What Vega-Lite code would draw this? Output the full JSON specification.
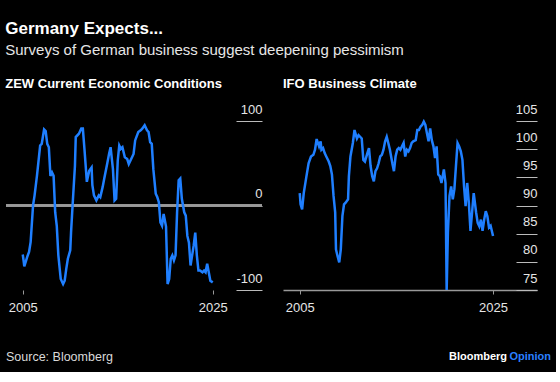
{
  "$schema": "https://vega.github.io/schema/vega-lite/v6.json",
  "background": "#000000",
  "padding": {"left": 5, "right": 5, "top": 20, "bottom": 5},
  "config": {
    "view": {"stroke": null},
    "font": "Liberation Sans",
    "concat": {"spacing": 20}
  },
  "title": {
    "text": "Germany Expects...",
    "subtitle": "Surveys of German business suggest deepening pessimism",
    "anchor": "start",
    "frame": "bounds",
    "color": "#ffffff",
    "subtitleColor": "#e6e6e6",
    "fontSize": 17,
    "fontWeight": "bold",
    "subtitleFontSize": 15,
    "subtitlePadding": 5,
    "offset": 19
  },
  "vconcat": [
    {
      "hconcat": [
        {
          "width": 256,
          "height": 169,
          "title": {"text": "ZEW Current Economic Conditions", "anchor": "start", "fontSize": 13, "fontWeight": "bold", "color": "#ffffff", "offset": 12},
          "data": {"values": [
            {"date": "2005-01-01", "value": -58}, {"date": "2005-02-01", "value": -65}, {"date": "2005-03-01", "value": -72},
            {"date": "2005-05-01", "value": -66}, {"date": "2005-07-01", "value": -60}, {"date": "2005-09-01", "value": -55},
            {"date": "2005-11-01", "value": -43}, {"date": "2006-02-01", "value": 0}, {"date": "2006-04-01", "value": 12},
            {"date": "2006-07-01", "value": 35}, {"date": "2006-11-01", "value": 71}, {"date": "2007-01-01", "value": 73},
            {"date": "2007-04-01", "value": 90}, {"date": "2007-06-01", "value": 88}, {"date": "2007-08-01", "value": 73},
            {"date": "2007-10-01", "value": 69}, {"date": "2007-12-01", "value": 35}, {"date": "2008-02-01", "value": 39},
            {"date": "2008-04-01", "value": 35}, {"date": "2008-06-01", "value": -8}, {"date": "2008-08-01", "value": -24},
            {"date": "2008-10-01", "value": -59}, {"date": "2009-01-01", "value": -87}, {"date": "2009-04-01", "value": -93},
            {"date": "2009-06-01", "value": -89}, {"date": "2009-08-01", "value": -75}, {"date": "2009-10-01", "value": -63},
            {"date": "2010-01-01", "value": -53}, {"date": "2010-02-01", "value": -32}, {"date": "2010-04-01", "value": 0},
            {"date": "2010-07-01", "value": 47}, {"date": "2010-08-01", "value": 81}, {"date": "2010-12-01", "value": 85},
            {"date": "2011-03-01", "value": 91}, {"date": "2011-05-01", "value": 91}, {"date": "2011-07-01", "value": 67},
            {"date": "2011-09-01", "value": 41}, {"date": "2011-10-01", "value": 28}, {"date": "2012-01-01", "value": 41},
            {"date": "2012-04-01", "value": 45}, {"date": "2012-05-01", "value": 24}, {"date": "2012-07-01", "value": 12},
            {"date": "2012-10-01", "value": 6}, {"date": "2013-01-01", "value": 12}, {"date": "2013-03-01", "value": 10},
            {"date": "2013-06-01", "value": 22}, {"date": "2013-08-01", "value": 32}, {"date": "2013-12-01", "value": 51},
            {"date": "2014-02-01", "value": 61}, {"date": "2014-04-01", "value": 69}, {"date": "2014-07-01", "value": 43},
            {"date": "2014-09-01", "value": 6}, {"date": "2014-11-01", "value": 8}, {"date": "2015-01-01", "value": 53},
            {"date": "2015-03-01", "value": 71}, {"date": "2015-05-01", "value": 67}, {"date": "2015-07-01", "value": 69},
            {"date": "2015-10-01", "value": 57}, {"date": "2016-01-01", "value": 55}, {"date": "2016-03-01", "value": 49},
            {"date": "2016-06-01", "value": 55}, {"date": "2016-09-01", "value": 61}, {"date": "2016-11-01", "value": 77},
            {"date": "2017-03-01", "value": 87}, {"date": "2017-06-01", "value": 89}, {"date": "2017-08-01", "value": 91},
            {"date": "2017-11-01", "value": 95}, {"date": "2018-02-01", "value": 89}, {"date": "2018-04-01", "value": 87},
            {"date": "2018-06-01", "value": 75}, {"date": "2018-08-01", "value": 73}, {"date": "2018-10-01", "value": 43},
            {"date": "2019-01-01", "value": 14}, {"date": "2019-03-01", "value": 10}, {"date": "2019-05-01", "value": 4},
            {"date": "2019-07-01", "value": -20}, {"date": "2019-09-01", "value": -24}, {"date": "2019-11-01", "value": -10},
            {"date": "2020-02-01", "value": -25}, {"date": "2020-04-01", "value": -93}, {"date": "2020-06-01", "value": -87},
            {"date": "2020-08-01", "value": -63}, {"date": "2020-10-01", "value": -59}, {"date": "2020-12-01", "value": -65},
            {"date": "2021-02-01", "value": -59}, {"date": "2021-04-01", "value": -8}, {"date": "2021-06-01", "value": 30},
            {"date": "2021-08-01", "value": 32}, {"date": "2021-10-01", "value": 8}, {"date": "2022-01-01", "value": -8},
            {"date": "2022-03-01", "value": -12}, {"date": "2022-05-01", "value": -36}, {"date": "2022-07-01", "value": -44},
            {"date": "2022-09-01", "value": -71}, {"date": "2022-11-01", "value": -59}, {"date": "2023-01-01", "value": -47},
            {"date": "2023-03-01", "value": -32}, {"date": "2023-05-01", "value": -59}, {"date": "2023-07-01", "value": -77},
            {"date": "2023-09-01", "value": -77}, {"date": "2023-12-01", "value": -79}, {"date": "2024-02-01", "value": -77},
            {"date": "2024-04-01", "value": -79}, {"date": "2024-06-01", "value": -69}, {"date": "2024-08-01", "value": -79},
            {"date": "2024-10-01", "value": -89}, {"date": "2025-01-01", "value": -91}
          ]},
          "layer": [
            {
              "mark": {"type": "rule", "color": "#999999", "strokeWidth": 1.5},
              "encoding": {"y": {"datum": 0, "type": "quantitative"}}
            },
            {
              "mark": {"type": "line", "color": "#1f7fff", "strokeWidth": 2.5},
              "encoding": {
                "x": {
                  "field": "date", "type": "temporal",
                  "scale": {"type": "utc", "domain": [{"year": 2003, "month": 3, "date": 29, "utc": true}, {"year": 2030, "month": 3, "date": 10, "utc": true}]},
                  "axis": {
                    "values": [{"year": 2005, "month": 1, "date": 1, "utc": true}, {"year": 2025, "month": 1, "date": 1, "utc": true}],
                    "format": "%Y", "title": null, "domain": false, "grid": false,
                    "tickSize": 4, "tickColor": "#999999", "labelPadding": 7,
                    "labelColor": "#e6e6e6", "labelFontSize": 13, "labelFlush": false
                  }
                },
                "y": {
                  "field": "value", "type": "quantitative",
                  "scale": {"domain": [-100, 100], "nice": false},
                  "axis": {
                    "orient": "right", "values": [-100, 0, 100], "title": null,
                    "domain": false, "grid": false, "tickSize": -26, "tickColor": "#bbbbbb",
                    "labelPadding": 26, "labelAlign": "right", "labelBaseline": "alphabetic", "labelOffset": -8,
                    "labelColor": "#e6e6e6", "labelFontSize": 13, "labelFlush": false, "labelOverlap": false,
                    "labelExpr": "replace(datum.label, '\u2212', '-')"
                  }
                }
              }
            }
          ]
        },
        {
          "width": 254,
          "height": 169,
          "title": {"text": "IFO Business Climate", "anchor": "start", "fontSize": 13, "fontWeight": "bold", "color": "#ffffff", "offset": 12},
          "data": {"values": [
            {"date": "2005-01-01", "value": 92.2}, {"date": "2005-02-01", "value": 90.2}, {"date": "2005-04-01", "value": 89.3},
            {"date": "2005-06-01", "value": 92.2}, {"date": "2005-09-01", "value": 94.9}, {"date": "2005-12-01", "value": 97.5},
            {"date": "2006-03-01", "value": 98.7}, {"date": "2006-06-01", "value": 99.0}, {"date": "2006-08-01", "value": 99.9},
            {"date": "2006-10-01", "value": 101.8}, {"date": "2007-01-01", "value": 100.5}, {"date": "2007-03-01", "value": 101.4},
            {"date": "2007-04-01", "value": 99.9}, {"date": "2007-06-01", "value": 100.2}, {"date": "2007-08-01", "value": 99.3},
            {"date": "2007-10-01", "value": 98.7}, {"date": "2008-01-01", "value": 97.8}, {"date": "2008-03-01", "value": 97.0},
            {"date": "2008-05-01", "value": 95.5}, {"date": "2008-07-01", "value": 91.7}, {"date": "2008-09-01", "value": 88.8},
            {"date": "2008-10-01", "value": 82.2}, {"date": "2008-12-01", "value": 81.0}, {"date": "2009-02-01", "value": 79.9},
            {"date": "2009-04-01", "value": 82.2}, {"date": "2009-06-01", "value": 88.1}, {"date": "2009-08-01", "value": 90.2},
            {"date": "2009-10-01", "value": 90.5}, {"date": "2010-01-01", "value": 91.1}, {"date": "2010-02-01", "value": 95.2},
            {"date": "2010-04-01", "value": 98.7}, {"date": "2010-07-01", "value": 101.1}, {"date": "2010-09-01", "value": 103.4},
            {"date": "2010-12-01", "value": 101.9}, {"date": "2011-02-01", "value": 102.5}, {"date": "2011-04-01", "value": 102.2},
            {"date": "2011-06-01", "value": 101.9}, {"date": "2011-08-01", "value": 98.1}, {"date": "2011-10-01", "value": 97.8},
            {"date": "2012-01-01", "value": 99.3}, {"date": "2012-03-01", "value": 100.2}, {"date": "2012-05-01", "value": 97.0},
            {"date": "2012-07-01", "value": 95.2}, {"date": "2012-09-01", "value": 94.3}, {"date": "2012-11-01", "value": 96.1},
            {"date": "2013-01-01", "value": 96.6}, {"date": "2013-03-01", "value": 97.5}, {"date": "2013-05-01", "value": 98.7},
            {"date": "2013-07-01", "value": 99.0}, {"date": "2013-09-01", "value": 99.9}, {"date": "2013-11-01", "value": 101.4},
            {"date": "2014-01-01", "value": 102.2}, {"date": "2014-03-01", "value": 101.1}, {"date": "2014-05-01", "value": 99.9},
            {"date": "2014-08-01", "value": 97.5}, {"date": "2014-10-01", "value": 96.1}, {"date": "2014-12-01", "value": 98.7},
            {"date": "2015-02-01", "value": 99.9}, {"date": "2015-04-01", "value": 100.2}, {"date": "2015-06-01", "value": 99.9},
            {"date": "2015-08-01", "value": 100.5}, {"date": "2015-10-01", "value": 101.1}, {"date": "2015-12-01", "value": 98.7},
            {"date": "2016-02-01", "value": 99.9}, {"date": "2016-04-01", "value": 99.6}, {"date": "2016-06-01", "value": 100.2},
            {"date": "2016-08-01", "value": 101.1}, {"date": "2016-10-01", "value": 101.4}, {"date": "2017-01-01", "value": 101.6},
            {"date": "2017-03-01", "value": 103.4}, {"date": "2017-05-01", "value": 103.4}, {"date": "2017-07-01", "value": 104.0},
            {"date": "2017-09-01", "value": 104.3}, {"date": "2017-11-01", "value": 104.9}, {"date": "2018-01-01", "value": 104.3},
            {"date": "2018-03-01", "value": 102.8}, {"date": "2018-05-01", "value": 101.4}, {"date": "2018-07-01", "value": 103.7},
            {"date": "2018-09-01", "value": 101.6}, {"date": "2018-11-01", "value": 100.5}, {"date": "2019-01-01", "value": 98.4},
            {"date": "2019-03-01", "value": 100.5}, {"date": "2019-05-01", "value": 95.5}, {"date": "2019-07-01", "value": 95.2},
            {"date": "2019-09-01", "value": 94.0}, {"date": "2019-12-01", "value": 96.4}, {"date": "2020-02-01", "value": 94.0},
            {"date": "2020-03-15", "value": 75.0}, {"date": "2020-05-01", "value": 85.2}, {"date": "2020-07-01", "value": 91.7},
            {"date": "2020-09-01", "value": 93.4}, {"date": "2020-11-01", "value": 91.1}, {"date": "2021-01-01", "value": 92.9},
            {"date": "2021-03-01", "value": 97.0}, {"date": "2021-05-01", "value": 101.1}, {"date": "2021-07-01", "value": 100.5},
            {"date": "2021-09-01", "value": 99.6}, {"date": "2021-11-01", "value": 98.1}, {"date": "2022-01-01", "value": 93.4},
            {"date": "2022-03-01", "value": 89.9}, {"date": "2022-05-01", "value": 94.0}, {"date": "2022-07-01", "value": 90.5},
            {"date": "2022-09-01", "value": 85.5}, {"date": "2022-11-01", "value": 88.8}, {"date": "2023-01-01", "value": 92.2},
            {"date": "2023-04-01", "value": 88.8}, {"date": "2023-06-01", "value": 86.9}, {"date": "2023-08-01", "value": 86.3},
            {"date": "2023-10-01", "value": 87.5}, {"date": "2023-12-01", "value": 85.5}, {"date": "2024-02-01", "value": 87.5},
            {"date": "2024-04-01", "value": 89.0}, {"date": "2024-06-01", "value": 88.1}, {"date": "2024-08-01", "value": 86.1},
            {"date": "2024-10-01", "value": 86.4}, {"date": "2025-01-01", "value": 84.6}
          ]},
          "mark": {"type": "line", "color": "#1f7fff", "strokeWidth": 2.5},
          "encoding": {
            "x": {
              "field": "date", "type": "temporal",
              "scale": {"type": "utc", "domain": [{"year": 2003, "month": 4, "date": 9, "utc": true}, {"year": 2029, "month": 7, "date": 20, "utc": true}]},
              "axis": {
                "values": [{"year": 2005, "month": 1, "date": 1, "utc": true}, {"year": 2025, "month": 1, "date": 1, "utc": true}],
                "format": "%Y", "title": null, "domain": true, "domainColor": "#999999", "domainWidth": 1.5, "grid": false,
                "tickSize": 4, "tickColor": "#999999", "labelPadding": 7,
                "labelColor": "#e6e6e6", "labelFontSize": 13, "labelFlush": false
              }
            },
            "y": {
              "field": "value", "type": "quantitative",
              "scale": {"domain": [75, 105], "zero": false, "nice": false},
              "axis": {
                "orient": "right", "values": [75, 80, 85, 90, 95, 100, 105], "title": null,
                "domain": false, "grid": false, "tickSize": -21, "tickColor": "#bbbbbb",
                "labelPadding": 21, "labelAlign": "right", "labelBaseline": "alphabetic", "labelOffset": -8,
                "labelColor": "#e6e6e6", "labelFontSize": 13, "labelFlush": false, "labelOverlap": false
              }
            }
          }
        }
      ]
    },
    {
      "width": 545,
      "height": 20,
      "layer": [
        {
          "data": {"values": [{"label": "Source: Bloomberg", "pos": 0}]},
          "mark": {"type": "text", "align": "left", "baseline": "middle", "color": "#d9d9d9", "fontSize": 12.5},
          "encoding": {
            "x": {"field": "pos", "type": "quantitative", "scale": {"domain": [0, 1]}, "axis": null},
            "text": {"field": "label"}
          }
        },
        {
          "data": {"values": [{"label": "Bloomberg", "pos": 1}]},
          "mark": {"type": "text", "align": "right", "baseline": "middle", "color": "#ffffff", "fontSize": 11, "fontWeight": "bold", "dx": -44},
          "encoding": {
            "x": {"field": "pos", "type": "quantitative", "scale": {"domain": [0, 1]}, "axis": null},
            "text": {"field": "label"}
          }
        },
        {
          "data": {"values": [{"label": "Opinion", "pos": 1}]},
          "mark": {"type": "text", "align": "right", "baseline": "middle", "color": "#2a7fff", "fontSize": 11, "fontWeight": "bold"},
          "encoding": {
            "x": {"field": "pos", "type": "quantitative", "scale": {"domain": [0, 1]}, "axis": null},
            "text": {"field": "label"}
          }
        }
      ]
    }
  ],
  "spacing": 33
}
